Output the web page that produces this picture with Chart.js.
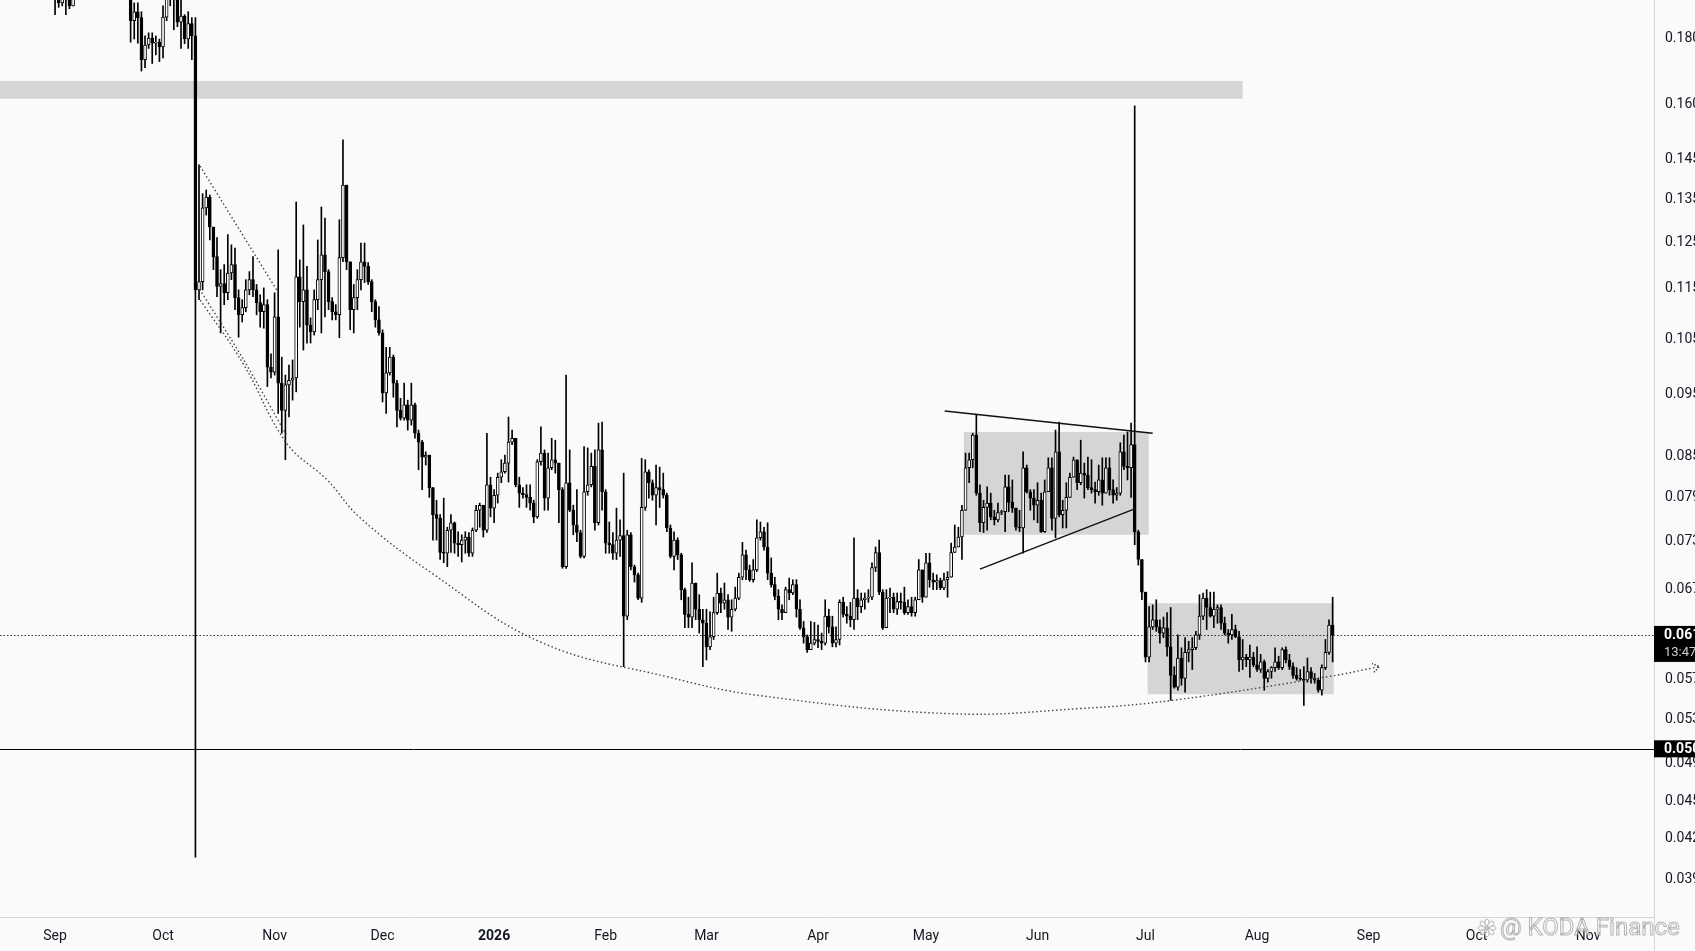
<!DOCTYPE html>
<html>
<head>
<meta charset="utf-8">
<script src="https://cdn.jsdelivr.net/npm/chart.js@4.4.1/dist/chart.umd.min.js"></script>
<style>
  html, body { margin: 0; padding: 0; background: #fafafa; }
  #wrap { width: 1695px; height: 951px; position: relative; }
</style>
</head>
<body>
<div id="wrap"><canvas id="chart"></canvas></div>
<script>
// daily candles, day 0 = 2025-09-01; open of each day = previous close
const firstOpen = 0.1960;

const closes = [
  .1940,.1910,.1930,.1920,.1900,.1980,.2020,.2050,.2080,.2040,
  .2090,.2120,.2080,.2060,.2100,.2070,.2030,.2060,.2010,.1990,
  .2000,.1850,.1880,.1860,.1725,.1771,.1793,.1777,.1780,.1765,
  .1862,.1930,.1950,.1920,.1845,.1865,.1790,.1840,.1800,.1141,
  .1158,.1322,.1348,.1277,.1211,.1148,.1154,.1135,.1176,.1194,
  .1125,.1091,.1105,.1141,.1162,.1141,.1115,.1097,.1111,.0993,
  .0984,.1087,.0965,.0919,.0962,.0970,.0974,.1168,.1117,.1141,
  .1071,.1058,.1121,.1162,.1215,.1179,.1117,.1097,.1091,.1209,
  .1377,.1200,.1101,.1125,.1162,.1200,.1190,.1158,.1117,.1081,
  .1056,.0948,.0983,.1011,.0965,.0919,.0906,.0928,.0903,.0928,
  .0882,.0868,.0845,.0848,.0800,.0762,.0757,.0712,.0711,.0741,
  .0751,.0724,.0722,.0728,.0732,.0711,.0741,.0768,.0775,.0741,
  .0804,.0771,.0789,.0815,.0823,.0836,.0868,.0874,.0804,.0792,
  .0790,.0786,.0778,.0759,.0838,.0851,.0785,.0829,.0841,.0836,
  .0797,.0694,.0807,.0768,.0748,.0738,.0707,.0794,.0804,.0831,
  .0751,.0856,.0794,.0724,.0722,.0711,.0728,.0734,.0635,.0735,
  .0694,.0684,.0656,.0772,.0823,.0807,.0789,.0800,.0797,.0789,
  .0744,.0707,.0728,.0709,.0666,.0637,.0634,.0674,.0643,.0631,
  .0627,.0601,.0612,.0639,.0662,.0650,.0654,.0634,.0643,.0656,
  .0681,.0709,.0690,.0678,.0690,.0731,.0739,.0719,.0686,.0672,
  .0658,.0643,.0639,.0666,.0662,.0672,.0643,.0622,.0612,.0598,
  .0605,.0609,.0607,.0605,.0635,.0623,.0605,.0609,.0651,.0637,
  .0635,.0631,.0656,.0646,.0654,.0656,.0657,.0693,.0712,.0663,
  .0622,.0656,.0657,.0643,.0652,.0651,.0639,.0646,.0639,.0654,
  .0690,.0657,.0699,.0678,.0675,.0677,.0668,.0678,.0681,.0712,
  .0719,.0732,.0768,.0829,.0841,.0879,.0792,.0751,.0772,.0778,
  .0759,.0755,.0765,.0766,.0801,.0779,.0771,.0745,.0744,.0829,
  .0794,.0785,.0775,.0782,.0739,.0794,.0829,.0757,.0853,.0762,
  .0768,.0786,.0815,.0841,.0807,.0821,.0818,.0800,.0797,.0794,
  .0811,.0792,.0829,.0797,.0789,.0792,.0853,.0831,.0829,.0864,
  .0739,.0703,.0663,.0590,.0623,.0631,.0623,.0616,.0622,.0601,
  .0571,.0559,.0589,.0568,.0595,.0598,.0600,.0614,.0635,.0656,
  .0645,.0635,.0643,.0645,.0627,.0616,.0614,.0620,.0612,.0587,
  .0590,.0587,.0590,.0582,.0577,.0585,.0568,.0575,.0579,.0585,
  .0579,.0598,.0587,.0580,.0571,.0568,.0567,.0566,.0575,.0568,
  .0566,.0556,.0579,.0595,.0625,.0614
];

const highs = [
  .2000,.1960,.1980,.1970,.1960,.2010,.2060,.2100,.2130,.2110,
  .2140,.2180,.2150,.2110,.2150,.2130,.2090,.2100,.2080,.2040,
  .2050,.2010,.1910,.1910,.1880,.1800,.1810,.1810,.1800,.1790,
  .1900,.1960,.1990,.1960,.1960,.1950,.1870,.1880,.1860,.1860,
  .1428,.1356,.1365,.1353,.1271,.1253,.1183,.1194,.1260,.1237,
  .1230,.1141,.1121,.1162,.1179,.1211,.1152,.1131,.1145,.1121,
  .1017,.1135,.1226,.1011,.0979,.0997,.1006,.1336,.1204,.1282,
  .1190,.1085,.1141,.1248,.1324,.1298,.1183,.1125,.1111,.1294,
  .1494,.1365,.1200,.1152,.1183,.1241,.1241,.1198,.1162,.1121,
  .1107,.1062,.1029,.1029,.1015,.0970,.0939,.0965,.0936,.0965,
  .0931,.0887,.0871,.0853,.0848,.0789,.0782,.0762,.0785,.0745,
  .0762,.0752,.0739,.0735,.0739,.0738,.0744,.0775,.0778,.0768,
  .0882,.0815,.0797,.0821,.0841,.0848,.0908,.0887,.0871,.0815,
  .0800,.0804,.0804,.0782,.0841,.0892,.0856,.0851,.0874,.0871,
  .0836,.0800,.0979,.0856,.0775,.0797,.0741,.0861,.0859,.0851,
  .0856,.0898,.0900,.0797,.0752,.0738,.0771,.0755,.0821,.0741,
  .0738,.0696,.0686,.0843,.0841,.0826,.0811,.0833,.0830,.0821,
  .0792,.0748,.0739,.0731,.0711,.0668,.0657,.0699,.0674,.0660,
  .0643,.0643,.0640,.0657,.0686,.0668,.0674,.0660,.0654,.0669,
  .0686,.0725,.0715,.0696,.0703,.0755,.0752,.0745,.0751,.0705,
  .0681,.0666,.0648,.0669,.0680,.0678,.0678,.0654,.0629,.0614,
  .0629,.0628,.0625,.0616,.0654,.0643,.0635,.0623,.0654,.0657,
  .0646,.0651,.0731,.0666,.0662,.0662,.0666,.0699,.0719,.0728,
  .0666,.0666,.0668,.0662,.0662,.0662,.0669,.0654,.0657,.0657,
  .0703,.0690,.0711,.0711,.0686,.0684,.0680,.0686,.0688,.0724,
  .0748,.0745,.0775,.0851,.0851,.0882,.0911,.0804,.0782,.0801,
  .0792,.0768,.0778,.0768,.0818,.0818,.0811,.0771,.0768,.0853,
  .0833,.0797,.0797,.0807,.0792,.0811,.0844,.0844,.0887,.0900,
  .0782,.0807,.0821,.0845,.0841,.0871,.0836,.0845,.0841,.0808,
  .0833,.0844,.0844,.0844,.0811,.0800,.0867,.0879,.0884,.0898,
  .1588,.0741,.0703,.0663,.0646,.0648,.0654,.0631,.0634,.0639,
  .0645,.0580,.0614,.0600,.0611,.0607,.0611,.0618,.0660,.0662,
  .0666,.0663,.0663,.0648,.0648,.0634,.0620,.0637,.0625,.0618,
  .0609,.0593,.0603,.0595,.0601,.0593,.0587,.0577,.0580,.0600,
  .0591,.0600,.0601,.0593,.0584,.0579,.0577,.0580,.0589,.0579,
  .0573,.0568,.0582,.0609,.0631,.0657
];

const lows = [
  .1870,.1895,.1900,.1870,.1890,.1930,.1960,.2000,.2020,.2000,
  .2030,.2060,.2040,.2010,.2030,.2020,.1990,.2000,.1970,.1950,
  .1940,.1780,.1790,.1777,.1690,.1700,.1760,.1713,.1740,.1719,
  .1730,.1850,.1900,.1820,.1830,.1760,.1775,.1760,.1725,.0412,
  .1121,.1141,.1305,.1248,.1183,.1127,.1056,.1111,.1121,.1162,
  .1101,.1048,.1077,.1097,.1131,.1127,.1091,.1067,.1065,.0959,
  .0974,.0979,.0914,.0882,.0841,.0908,.0936,.0950,.1067,.1024,
  .1037,.1037,.1052,.1101,.1056,.1087,.1101,.1081,.1081,.1047,
  .1200,.1183,.1062,.1056,.1101,.1141,.1156,.1152,.1097,.1067,
  .1052,.0933,.0914,.0979,.0941,.0892,.0903,.0903,.0887,.0895,
  .0874,.0826,.0797,.0833,.0786,.0728,.0728,.0703,.0699,.0694,
  .0712,.0711,.0707,.0700,.0711,.0707,.0707,.0739,.0745,.0732,
  .0738,.0759,.0751,.0778,.0807,.0821,.0808,.0864,.0801,.0772,
  .0785,.0772,.0768,.0751,.0757,.0833,.0768,.0768,.0826,.0821,
  .0751,.0692,.0692,.0766,.0735,.0726,.0705,.0705,.0789,.0801,
  .0741,.0748,.0768,.0711,.0711,.0703,.0703,.0707,.0580,.0631,
  .0690,.0675,.0654,.0651,.0768,.0785,.0782,.0748,.0772,.0785,
  .0739,.0705,.0690,.0703,.0654,.0622,.0622,.0622,.0631,.0616,
  .0580,.0587,.0598,.0609,.0637,.0639,.0643,.0620,.0618,.0641,
  .0654,.0678,.0678,.0676,.0675,.0688,.0728,.0715,.0678,.0669,
  .0654,.0631,.0631,.0639,.0654,.0660,.0634,.0620,.0605,.0595,
  .0598,.0603,.0600,.0598,.0603,.0616,.0601,.0601,.0603,.0634,
  .0627,.0623,.0620,.0631,.0639,.0643,.0651,.0654,.0688,.0660,
  .0620,.0622,.0639,.0639,.0637,.0643,.0637,.0637,.0635,.0635,
  .0654,.0651,.0657,.0669,.0666,.0666,.0666,.0666,.0657,.0681,
  .0712,.0719,.0703,.0768,.0807,.0829,.0789,.0739,.0738,.0741,
  .0755,.0748,.0752,.0762,.0739,.0766,.0765,.0741,.0739,.0711,
  .0792,.0768,.0755,.0751,.0738,.0738,.0794,.0741,.0731,.0759,
  .0744,.0744,.0786,.0815,.0797,.0804,.0785,.0797,.0792,.0778,
  .0789,.0775,.0792,.0789,.0778,.0782,.0789,.0826,.0811,.0786,
  .0722,.0696,.0654,.0585,.0585,.0620,.0618,.0605,.0611,.0591,
  .0546,.0558,.0556,.0561,.0554,.0585,.0577,.0598,.0609,.0631,
  .0620,.0634,.0622,.0627,.0620,.0614,.0605,.0609,.0611,.0575,
  .0577,.0580,.0569,.0580,.0575,.0574,.0556,.0564,.0568,.0575,
  .0577,.0577,.0584,.0577,.0568,.0566,.0566,.0541,.0564,.0563,
  .0563,.0554,.0551,.0577,.0593,.0585
];

// time axis: month starts as day numbers
const monthDays = [0, 30, 61, 91, 122, 153, 181, 212, 242, 273, 303, 334, 365, 395, 426];
const monthLabels = ['Sep', 'Oct', 'Nov', 'Dec', '2026', 'Feb', 'Mar', 'Apr', 'May', 'Jun', 'Jul', 'Aug', 'Sep', 'Oct', 'Nov'];
const priceTicks = [0.18, 0.16, 0.145, 0.135, 0.125, 0.115, 0.105, 0.095, 0.085, 0.079, 0.073, 0.067,
                    0.061, 0.057, 0.053, 0.049, 0.0458, 0.0428, 0.0398];

// drawings, in [day, price]
const zones = [
  [[-16, 0.1608], [330, 0.1660]],     // resistance band
  [[252.5, 0.0735], [303.9, 0.0884]], // May-Jun range
  [[303.6, 0.0552], [355.3, 0.0650]]  // Jul-Aug range
];
const wedgeTop = [[247.2, 0.0918], [305, 0.0882]];
const wedgeBottom = [[257, 0.0691], [300, 0.0770]];
const arcMain = [[39.7, 0.1127], [52.2, 0.1000], [64.4, 0.0866], [75.6, 0.0811], [84.7, 0.0758],
                 [104.7, 0.0686], [135, 0.0606], [170.8, 0.0569], [195, 0.0551], [248.9, 0.0533],
                 [285, 0.0538], [310.6, 0.0546], [354.2, 0.0570], [368, 0.0580]];
const arcInner = [[40.2, 0.1142], [52.6, 0.1004], [64.2, 0.0880]];
const arcUpper = [[40.3, 0.1425], [61.9, 0.1137]];
const levelPrice = 0.0500;
const countdown = '13:47';

const opens = closes.map((c, i) => i === 0 ? firstOpen : closes[i - 1]);
const wicks = closes.map((c, i) => ({ x: i, y: [Math.min(lows[i], opens[i], c), Math.max(highs[i], opens[i], c)] }));
const bodies = closes.map((c, i) => ({ x: i, y: [opens[i], c] }));
const bodyFill = closes.map((c, i) => c >= opens[i] ? '#ffffff' : '#000000');
const pts = arr => arr.map(p => ({ x: p[0], y: p[1] }));

const lastPrice = closes[closes.length - 1];
const FONT = 'Roboto, "DejaVu Sans", sans-serif';
Chart.defaults.font.family = FONT;

const overlay = {
  id: 'overlay',
  beforeDatasetsDraw(chart) {
    const { ctx, chartArea: a, scales: { x, y } } = chart;
    ctx.save();
    ctx.beginPath();
    ctx.rect(a.left, a.top, a.right - a.left, a.bottom - a.top);
    ctx.clip();
    ctx.fillStyle = '#d5d5d5';
    zones.forEach(z => {
      const x0 = x.getPixelForValue(z[0][0]), x1 = x.getPixelForValue(z[1][0]);
      const y0 = y.getPixelForValue(z[1][1]), y1 = y.getPixelForValue(z[0][1]);
      ctx.fillRect(x0, y0, x1 - x0, y1 - y0);
    });
    // horizontal level
    const ly = Math.round(y.getPixelForValue(levelPrice)) + 0.5;
    ctx.strokeStyle = '#000';
    ctx.lineWidth = 1;
    ctx.beginPath(); ctx.moveTo(a.left, ly); ctx.lineTo(a.right, ly); ctx.stroke();
    // last price dotted line
    const py = Math.round(y.getPixelForValue(lastPrice)) + 0.5;
    ctx.strokeStyle = '#333';
    ctx.setLineDash([1.5, 2]);
    ctx.beginPath(); ctx.moveTo(a.left, py); ctx.lineTo(a.right, py); ctx.stroke();
    ctx.restore();
  },
  afterDatasetsDraw(chart) {
    const { ctx, chartArea: a, scales: { x, y } } = chart;
    // arrow head at end of the arc
    const p1 = arcMain[arcMain.length - 1], p0 = arcMain[arcMain.length - 2];
    const ex = x.getPixelForValue(p1[0]), ey = y.getPixelForValue(p1[1]);
    const ang = Math.atan2(ey - y.getPixelForValue(p0[1]), ex - x.getPixelForValue(p0[0]));
    ctx.save();
    ctx.strokeStyle = '#444';
    ctx.lineWidth = 1.4;
    ctx.setLineDash([1.5, 1.5]);
    ctx.beginPath();
    ctx.moveTo(ex - 8 * Math.cos(ang - 0.6), ey - 8 * Math.sin(ang - 0.6));
    ctx.lineTo(ex, ey);
    ctx.lineTo(ex - 8 * Math.cos(ang + 0.6), ey - 8 * Math.sin(ang + 0.6));
    ctx.stroke();
    ctx.restore();

    // price tags on the axis
    const left = a.right;
    const w = chart.width - left;
    const py = y.getPixelForValue(lastPrice);
    ctx.save();
    ctx.fillStyle = '#000';
    ctx.fillRect(left, py - 9, w, 36);
    ctx.textBaseline = 'middle';
    ctx.textAlign = 'left';
    ctx.font = 'bold 14px ' + FONT;
    ctx.fillStyle = '#fff';
    ctx.fillText(lastPrice.toFixed(4), left + 10, py + 1);
    ctx.font = '13px ' + FONT;
    ctx.fillStyle = '#cfcfcf';
    ctx.fillText(countdown, left + 10, py + 18);
    const ly = y.getPixelForValue(levelPrice);
    ctx.fillStyle = '#000';
    ctx.fillRect(left, ly - 9, w, 17);
    ctx.font = 'bold 14px ' + FONT;
    ctx.fillStyle = '#fff';
    ctx.fillText(levelPrice.toFixed(4), left + 10, ly);
    // right border down through the time axis
    ctx.strokeStyle = '#d6d6d6';
    ctx.lineWidth = 1;
    ctx.beginPath(); ctx.moveTo(left + 0.5, a.bottom); ctx.lineTo(left + 0.5, chart.height); ctx.stroke();
    ctx.restore();
  },
  afterDraw(chart) {
    const { ctx } = chart;
    ctx.save();
    // watermark
    const cx = 1487, cy = 928;
    ctx.strokeStyle = 'rgba(150,150,150,0.7)';
    ctx.fillStyle = 'rgba(255,255,255,0.6)';
    ctx.lineWidth = 1;
    for (let k = 0; k < 8; k++) {
      const t = k * Math.PI / 4;
      ctx.beginPath();
      ctx.ellipse(cx + 5 * Math.cos(t), cy + 5 * Math.sin(t), 4, 2.2, t, 0, Math.PI * 2);
      ctx.fill(); ctx.stroke();
    }
    ctx.font = '24px ' + FONT;
    ctx.textBaseline = 'middle';
    ctx.lineWidth = 1;
    ctx.fillText('@ KODA Finance', 1500, cy + 1);
    ctx.strokeText('@ KODA Finance', 1500, cy + 1);
    ctx.restore();
  }
};

const dotted = { type: 'line', pointRadius: 0, borderColor: '#444', borderWidth: 1.4, borderDash: [1.5, 2.5], fill: false, order: -1 };
const solid = { type: 'line', pointRadius: 0, borderColor: '#111', borderWidth: 1.5, tension: 0, fill: false, order: -1 };

new Chart(document.getElementById('chart'), {
  type: 'bar',
  data: {
    datasets: [
      { data: bodies, backgroundColor: bodyFill, borderColor: '#000', borderWidth: 1, borderSkipped: false,
        barThickness: 3, grouped: false, minBarLength: 1 },
      { data: wicks, backgroundColor: '#000', borderWidth: 0, barThickness: 1, grouped: false },
      Object.assign({ data: pts(arcMain), tension: 0.4 }, dotted),
      Object.assign({ data: pts(arcInner), tension: 0.3 }, dotted),
      Object.assign({ data: pts(arcUpper), tension: 0 }, dotted),
      Object.assign({ data: pts(wedgeTop) }, solid),
      Object.assign({ data: pts(wedgeBottom) }, solid)
    ]
  },
  options: {
    responsive: true,
    maintainAspectRatio: false,
    animation: false,
    layout: { padding: 0, autoPadding: false },
    plugins: { legend: { display: false }, tooltip: { enabled: false } },
    scales: {
      x: {
        type: 'linear',
        min: -15.3,
        max: 444.3,
        offset: false,
        grid: { display: false, drawTicks: false },
        border: { display: true, color: '#d6d6d6' },
        afterBuildTicks: s => { s.ticks = monthDays.map(v => ({ value: v })); },
        afterFit: s => { s.height = 34; s.paddingLeft = 0; s.paddingRight = 0; },
        ticks: {
          autoSkip: false,
          maxRotation: 0,
          padding: 11,
          color: '#131722',
          font: c => ({ size: 14, weight: c.tick && c.tick.value === 122 ? 'bold' : 'normal' }),
          callback: (v) => monthLabels[monthDays.indexOf(v)]
        }
      },
      y: {
        type: 'logarithmic',
        position: 'right',
        min: 0.0370,
        max: 0.1920,
        grid: { display: false, drawTicks: false },
        border: { display: true, color: '#d6d6d6' },
        afterBuildTicks: s => { s.ticks = priceTicks.map(v => ({ value: v })); },
        afterFit: s => { s.width = 41; s.paddingTop = 0; s.paddingBottom = 0; },
        ticks: {
          autoSkip: false,
          padding: 11,
          labelOffset: 3,
          color: '#131722',
          font: { size: 14 },
          callback: v => Number(v).toFixed(4)
        }
      }
    }
  },
  plugins: [overlay]
});
</script>
</body>
</html>
